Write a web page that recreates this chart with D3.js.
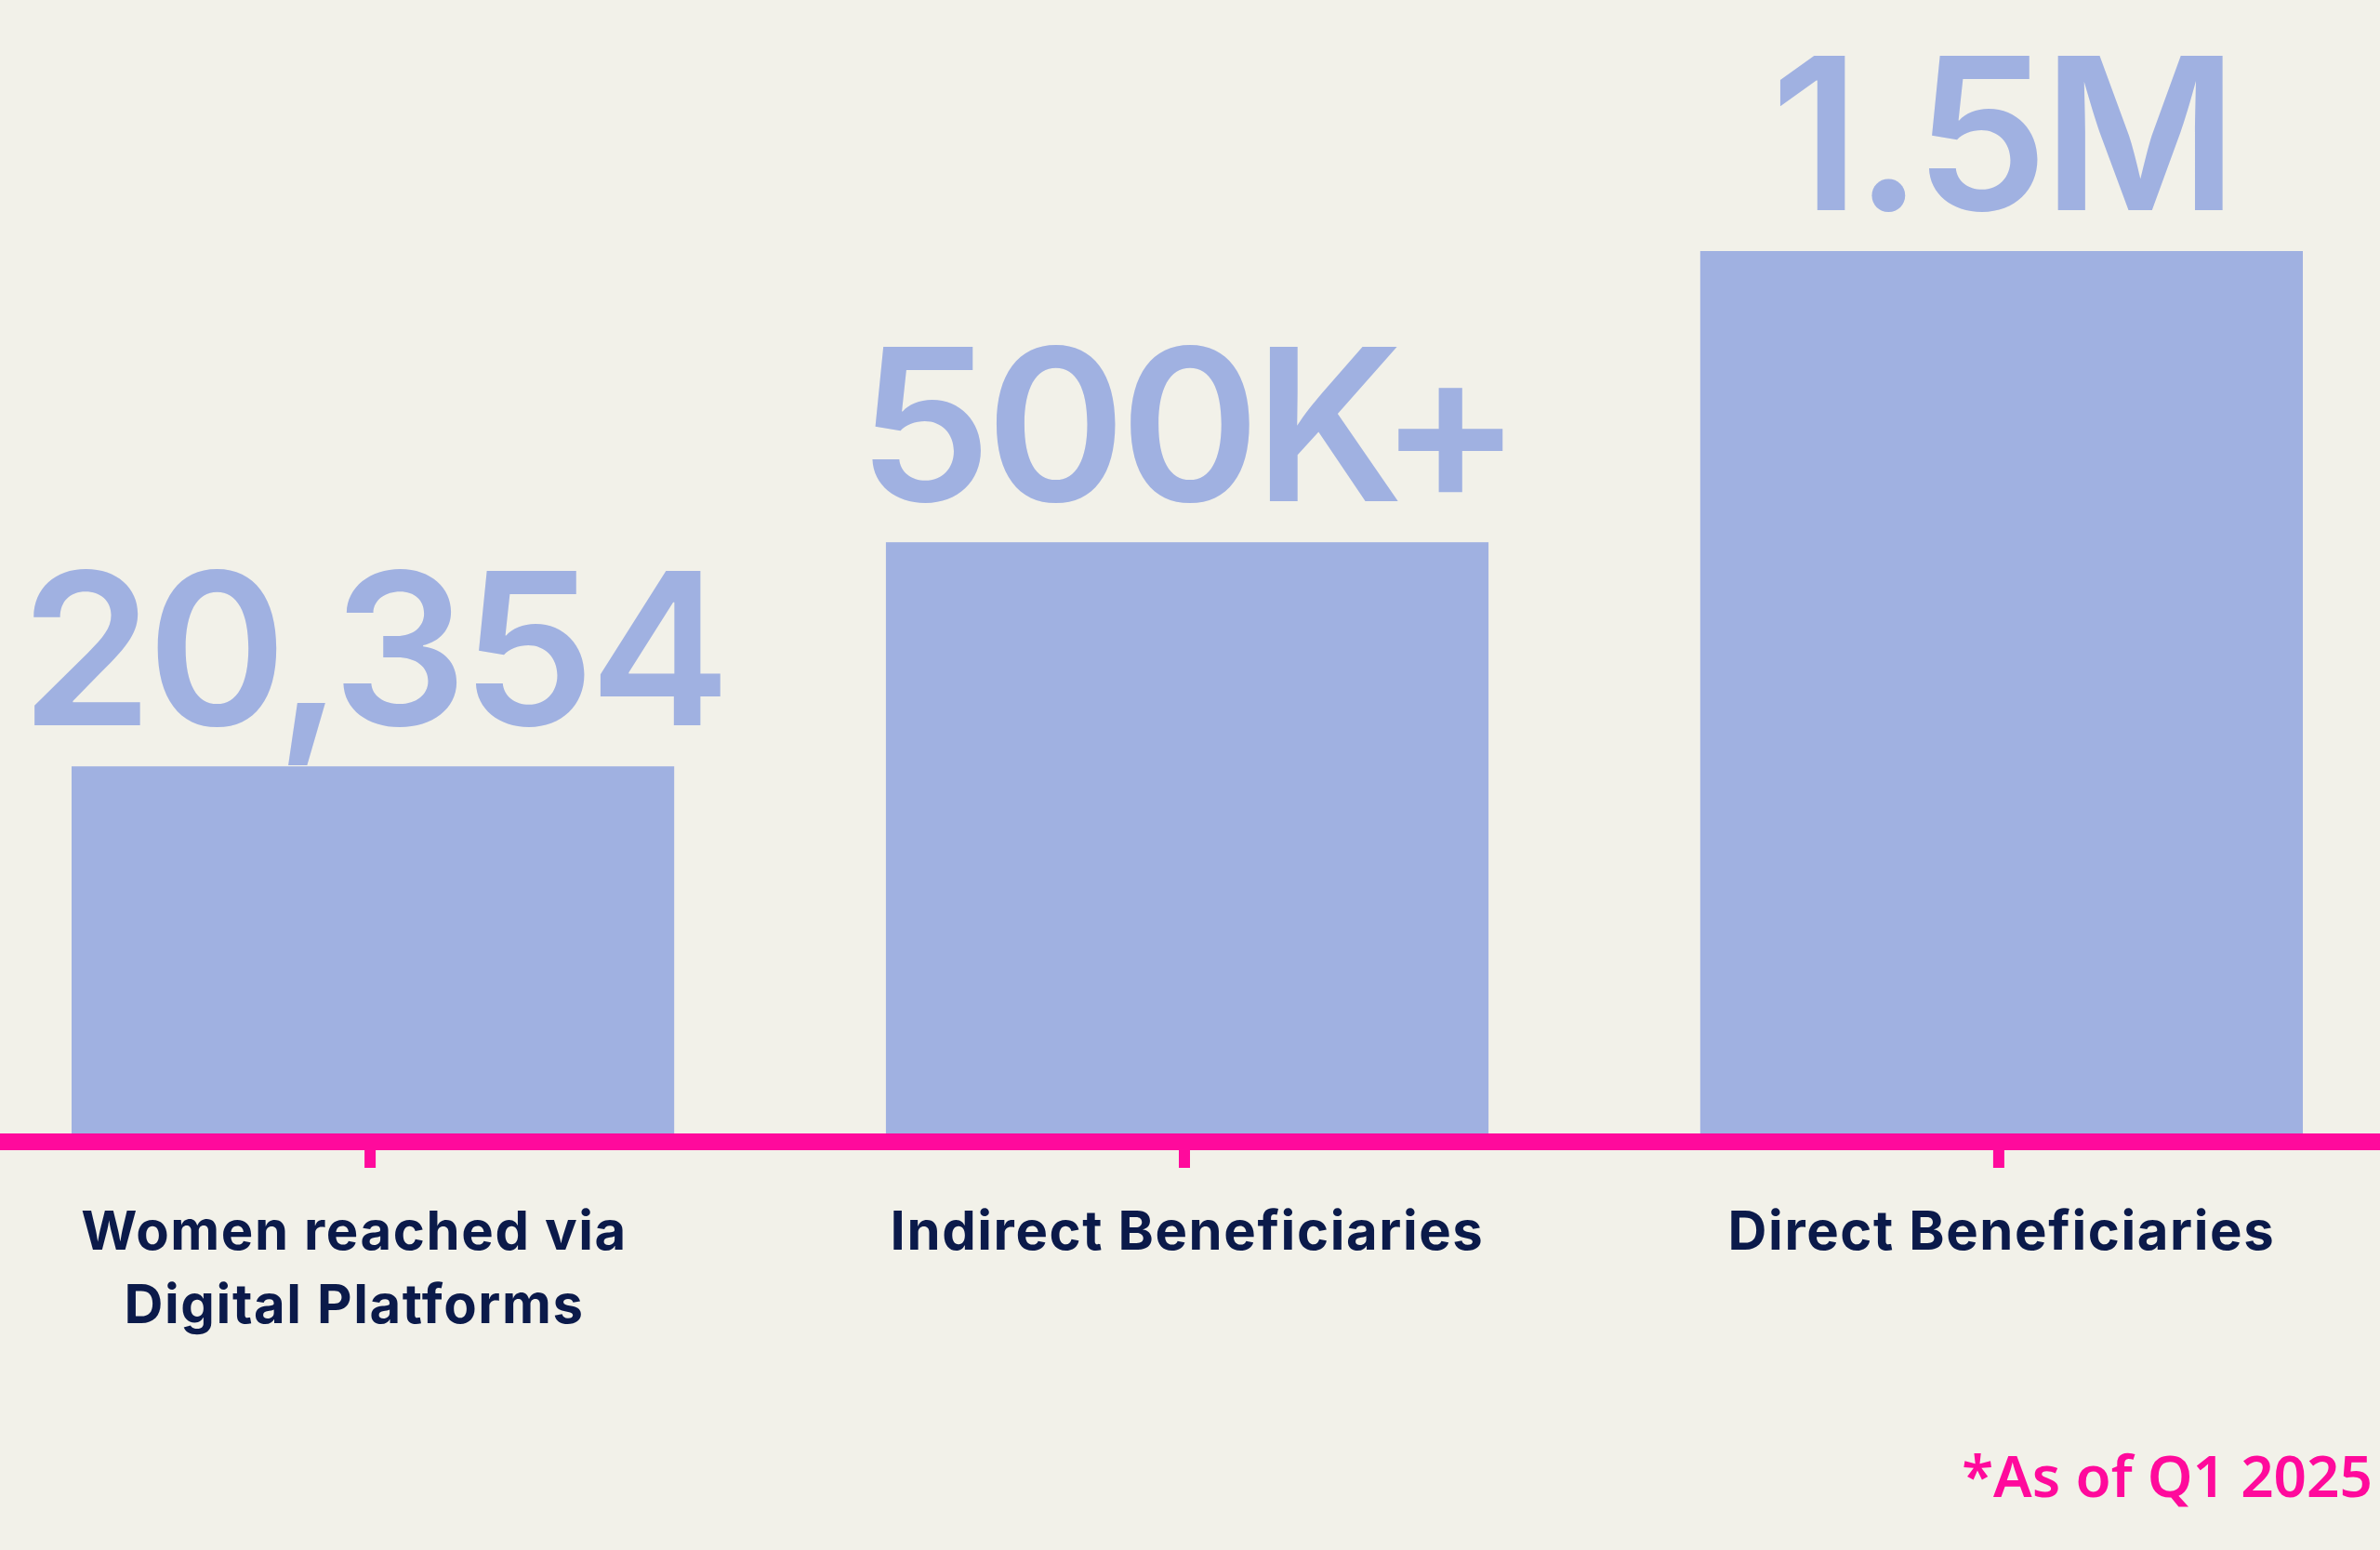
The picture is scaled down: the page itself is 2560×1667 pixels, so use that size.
<!DOCTYPE html>
<html>
<head>
<meta charset="utf-8">
<script src="https://cdn.jsdelivr.net/npm/d3@7"></script>
<style>
  html, body { margin: 0; padding: 0; background: #f2f1e9; }
  svg { display: block; }
</style>
</head>
<body>
<svg id="chart"></svg>
<script>
// ---- data ----
const categories = ["Women reached via|Digital Platforms", "Indirect Beneficiaries", "Direct Beneficiaries"];
const valueLabels = ["20,354", "500K+", "1.5M"];
// relative bar heights as drawn in the infographic (tallest = 100)
const barLevels = [41.6, 67, 100];
const footnote = "*As of Q1 2025";

const W = 2560, H = 1667;
const bg = "#f2f1e9", barColor = "#a0b1e1", pink = "#ff0a9c", navy = "#0b1a4a";

const svg = d3.select("#chart").attr("width", W).attr("height", H);
svg.append("rect").attr("width", W).attr("height", H).attr("fill", bg);

const baseY = 1219;
const x = d3.scaleBand().domain(categories).range([77, 2477]).paddingInner(0.26).paddingOuter(0);
const y = d3.scaleLinear().domain([0, 100]).range([baseY, 270]);

const data = categories.map((c, i) => ({ c, level: barLevels[i], label: valueLabels[i] }));

// bars
svg.append("g").selectAll("rect").data(data).join("rect")
  .attr("x", d => x(d.c))
  .attr("y", d => y(d.level))
  .attr("width", x.bandwidth())
  .attr("height", d => y(0) - y(d.level))
  .attr("fill", barColor);

// value labels
svg.append("g").selectAll("text").data(data).join("text")
  .attr("x", d => x(d.c) + x.bandwidth() / 2)
  .attr("y", d => y(d.level) - 44)
  .attr("text-anchor", "middle")
  .attr("font-family", "Inter, 'Noto Sans', sans-serif")
  .attr("font-weight", 600)
  .attr("font-size", 228)
  .attr("letter-spacing", -6)
  .attr("fill", barColor)
  .text(d => d.label);

// axis (pink baseline with ticks)
const axis = d3.axisBottom(x).tickSize(28).tickSizeOuter(0).tickFormat("");
const gAxis = svg.append("g").attr("transform", `translate(-3,${baseY + 9})`).call(axis);
gAxis.select(".domain").remove();
gAxis.selectAll(".tick line").attr("stroke", pink).attr("stroke-width", 12);
svg.append("line")
  .attr("x1", 0).attr("x2", W)
  .attr("y1", baseY + 9).attr("y2", baseY + 9)
  .attr("stroke", pink).attr("stroke-width", 18);

// category labels
const catG = svg.append("g");
data.forEach(d => {
  const lines = d.c.split("|");
  const cx = x(d.c) + x.bandwidth() / 2 - (lines.length > 1 ? 20 : 0);
  const t = catG.append("text")
    .attr("x", cx)
    .attr("y", 1344)
    .attr("text-anchor", "middle")
    .attr("font-family", "Inter, 'Noto Sans', sans-serif")
    .attr("font-weight", 700)
    .attr("font-size", 58)
    .attr("letter-spacing", 1.6)
    .attr("fill", navy);
  lines.forEach((ln, j) => {
    t.append("tspan").attr("x", cx).attr("dy", j === 0 ? 0 : 79).text(ln);
  });
});

// footnote
svg.append("text")
  .attr("x", 2552).attr("y", 1610)
  .attr("text-anchor", "end")
  .attr("font-family", "'Noto Sans', sans-serif")
  .attr("font-weight", 600)
  .attr("font-size", 62)
  .attr("fill", pink)
  .text(footnote);
</script>
</body>
</html>
